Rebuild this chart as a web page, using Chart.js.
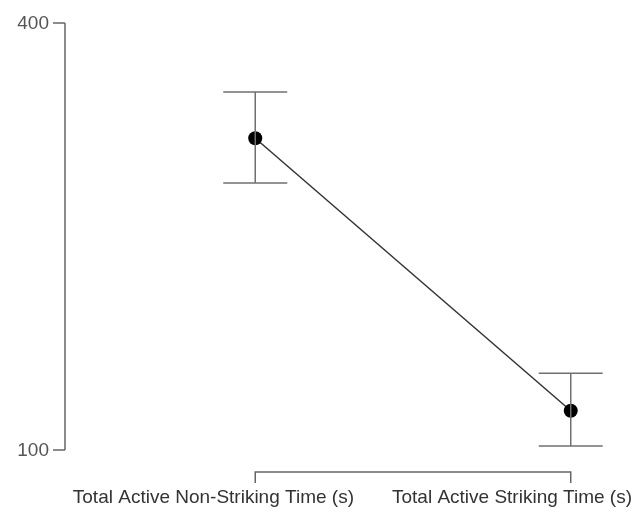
<!DOCTYPE html>
<html>
<head>
<meta charset="utf-8">
<script src="https://cdn.jsdelivr.net/npm/chart.js@4.4.0/dist/chart.umd.min.js"></script>
<style>
  html, body { margin:0; padding:0; background:#fff; }
  #wrap { width:644px; height:512px; position:relative; }
</style>
</head>
<body>
<div id="wrap"><canvas id="c"></canvas></div>
<script>
const categories = ['Total Active Non-Striking Time (s)', 'Total Active Striking Time (s)'];
const means      = [319, 127.6];
const errHigh    = [351.5, 154];
const errLow     = [287.6, 102.8];
const yTicks     = [100, 400];

const C = {
  axis:  '#666666',
  err:   '#707070',
  line:  '#333333',
  point: '#000000',
  text:  '#555555',
  label: '#333333',
};
const FONT = '"Liberation Sans", Arial, sans-serif';

// error bars + hand-drawn axes (offset style)
const decor = {
  id: 'decor',
  afterDatasetsDraw(chart) {
    const { ctx, scales: { x, y } } = chart;
    ctx.save();
    ctx.strokeStyle = C.err;
    ctx.lineWidth = 1.5;
    means.forEach((m, i) => {
      const px = x.getPixelForValue(i);
      const hi = y.getPixelForValue(errHigh[i]);
      const lo = y.getPixelForValue(errLow[i]);
      ctx.beginPath();
      ctx.moveTo(px, hi); ctx.lineTo(px, lo);
      ctx.moveTo(px - 32, hi); ctx.lineTo(px + 32, hi);
      ctx.moveTo(px - 32, lo); ctx.lineTo(px + 32, lo);
      ctx.stroke();
    });
    ctx.restore();
  },
  beforeDatasetsDraw(chart) {
    const { ctx, chartArea: a, scales: { x, y } } = chart;
    ctx.save();
    ctx.strokeStyle = C.axis;
    ctx.lineWidth = 1.5;

    // y axis
    const axX = a.left;
    const yTop = y.getPixelForValue(yTicks[yTicks.length - 1]);
    const yBot = y.getPixelForValue(yTicks[0]);
    ctx.beginPath();
    ctx.moveTo(axX, yTop); ctx.lineTo(axX, yBot);
    yTicks.forEach(t => {
      const py = y.getPixelForValue(t);
      ctx.moveTo(axX - 12, py); ctx.lineTo(axX, py);
    });
    ctx.stroke();
    ctx.fillStyle = C.text;
    ctx.font = '19px ' + FONT;
    ctx.textAlign = 'right';
    ctx.textBaseline = 'middle';
    yTicks.forEach(t => ctx.fillText(String(t), axX - 16, y.getPixelForValue(t) + 1));

    // x bracket
    const x0 = x.getPixelForValue(0), x1 = x.getPixelForValue(categories.length - 1);
    const by = a.bottom + 22;
    ctx.beginPath();
    ctx.moveTo(x0, by + 11); ctx.lineTo(x0, by); ctx.lineTo(x1, by); ctx.lineTo(x1, by + 11);
    ctx.stroke();

    // category labels (shifted left so they don't collide / overflow)
    ctx.fillStyle = C.label;
    ctx.font = '19px ' + FONT;
    ctx.textAlign = 'right';
    ctx.textBaseline = 'middle';
    const ly = a.bottom + 48;
    let right = chart.width - 12;
    for (let i = categories.length - 1; i >= 0; i--) {
      ctx.fillText(categories[i], right, ly);
      right -= ctx.measureText(categories[i]).width + 38;
    }
    ctx.restore();
  }
};

new Chart(document.getElementById('c'), {
  type: 'line',
  data: {
    datasets: [{
      data: means.map((v, i) => ({ x: i, y: v })),
      borderColor: C.line,
      borderWidth: 1.5,
      pointRadius: 7,
      pointBackgroundColor: C.point,
      pointBorderColor: C.point,
      pointBorderWidth: 0,
      fill: false,
      tension: 0,
    }],
  },
  options: {
    responsive: true, maintainAspectRatio: false, animation: false,
    layout: { padding: { left: 65, right: 4, top: 23, bottom: 62 } },
    plugins: { legend: { display: false }, tooltip: { enabled: false } },
    scales: {
      x: { type: 'linear', display: false, min: -0.603, max: 1.21 },
      y: { display: false, min: 100, max: 400 },
    },
  },
  plugins: [decor],
});
</script>
</body>
</html>
